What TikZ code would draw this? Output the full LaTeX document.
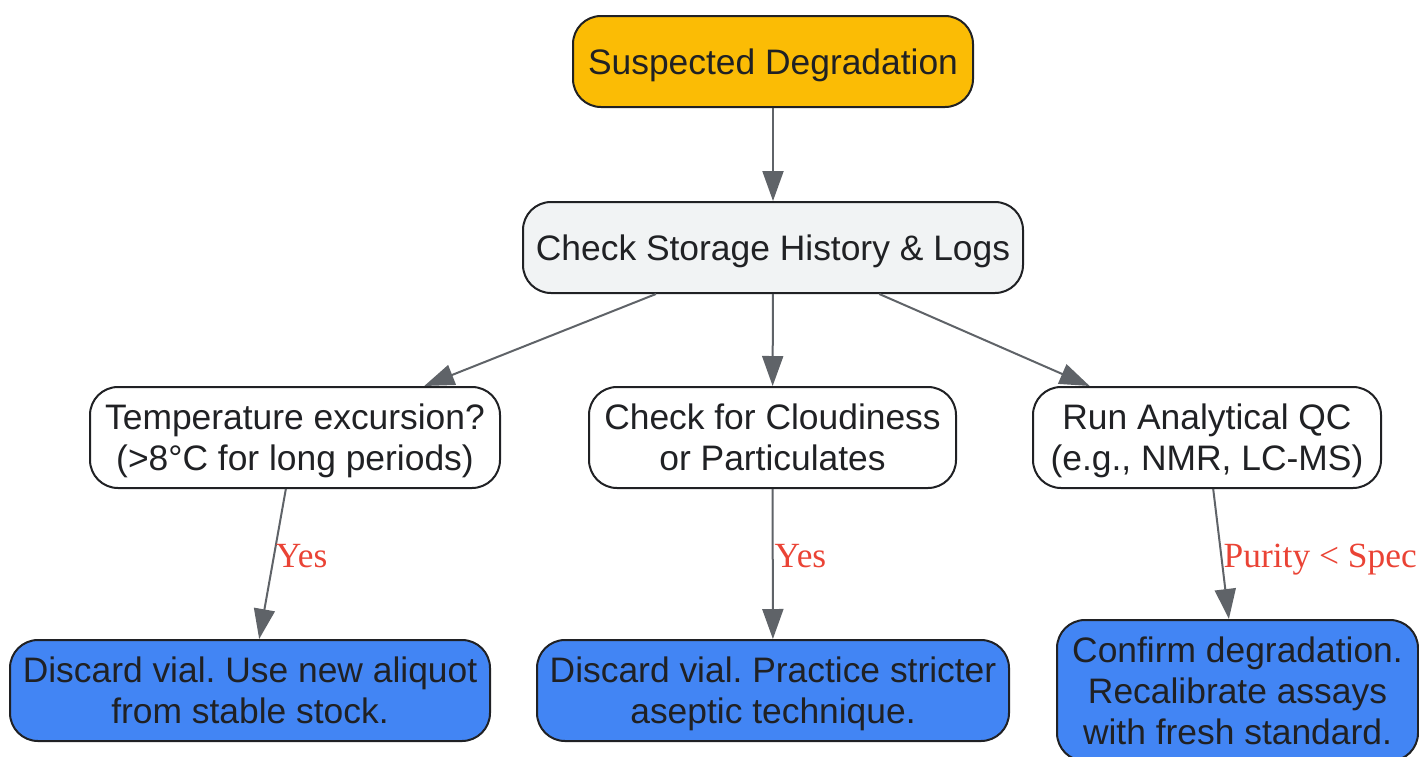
\documentclass[tikz,border=0pt]{standalone}
\usepackage{fontspec}
\setmainfont{Liberation Sans}
\newfontfamily\labelfont{Liberation Serif}
\usetikzlibrary{arrows.meta}
\frenchspacing

\definecolor{startyellow}{HTML}{FBBC05}
\definecolor{checkgray}{HTML}{F1F3F4}
\definecolor{actionblue}{HTML}{4285F4}
\definecolor{edgegray}{HTML}{5F6368}
\definecolor{labelred}{HTML}{EA4335}
\definecolor{textdark}{HTML}{202124}

\tikzset{
  box/.style={draw=textdark, line width=2pt, rounded corners=28pt, align=center,
    text=textdark, font=\fontsize{35.4}{41}\selectfont, inner sep=0pt, text depth=0pt},
  flow/.style={draw=edgegray, line width=2pt, -{Triangle[length=30pt,width=21pt]}},
  cond/.style={right, inner sep=1pt, text=labelred, font=\labelfont\fontsize{35.4}{41}\selectfont}
}

\begin{document}
\begin{tikzpicture}[x=1pt, y=-1pt]

\useasboundingbox (0,0) rectangle (1419,756);

% Start
\node[box, fill=startyellow, minimum width=400pt, minimum height=91pt] (suspect) at (773,61.5) {Suspected Degradation};

% Storage check
\node[box, fill=checkgray, minimum width=500pt, minimum height=91pt] (storage) at (773,247.5) {Check Storage History \& Logs};

% Checks
\node[box, fill=white, minimum width=410pt, minimum height=101pt] (temp) at (295,437.5) {Temperature excursion?\\(>8°C for long periods)};
\node[box, fill=white, minimum width=367pt, minimum height=101pt] (cloud) at (772.5,437.5) {Check for Cloudiness\\or Particulates};
\node[box, fill=white, minimum width=348pt, minimum height=101pt] (qc) at (1207,437.5) {Run Analytical QC\\(e.g., NMR, LC-MS)};

% Actions
\node[box, fill=actionblue, minimum width=480pt, minimum height=101pt] (discardA) at (250,690.5) {Discard vial. Use new aliquot\\from stable stock.};
\node[box, fill=actionblue, minimum width=472pt, minimum height=101pt] (discardB) at (773,690.5) {Discard vial. Practice stricter\\aseptic technique.};
\node[box, fill=actionblue, minimum width=361pt, minimum height=141pt] (confirm) at (1237.5,690.5) {Confirm degradation.\\Recalibrate assays\\with fresh standard.};

% Edges
\draw[flow] (suspect) -- (storage);
\draw[flow] (storage) -- (temp);
\draw[flow] (storage) -- (cloud);
\draw[flow] (storage) -- (qc);
\draw[flow] (temp) -- node[cond, pos=0.45] {Yes} (discardA);
\draw[flow] (cloud) -- node[cond, pos=0.45] {Yes} (discardB);
\draw[flow] (qc) -- node[cond, pos=0.54] {Purity < Spec} (confirm);

\end{tikzpicture}
\end{document}
